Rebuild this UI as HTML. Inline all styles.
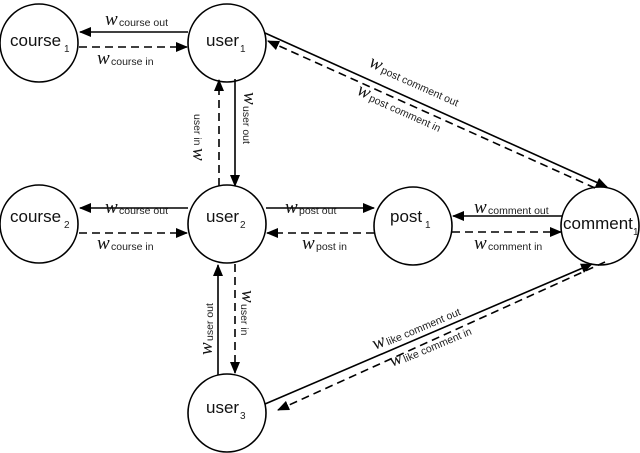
<!DOCTYPE html>
<html><head><style>
html,body{margin:0;padding:0;background:#fff;}
svg{display:block;}
.n{font-family:"Liberation Sans",sans-serif;font-size:17px;fill:#111;}
.s{font-family:"Liberation Sans",sans-serif;font-size:10px;fill:#222;}
.w{font-family:"Liberation Serif",serif;font-style:italic;font-size:19px;fill:#111;}
.l{font-family:"Liberation Sans",sans-serif;font-size:10.5px;fill:#222;}
</style></head><body>
<svg width="640" height="453" viewBox="0 0 640 453" xmlns="http://www.w3.org/2000/svg">
<defs>
<marker id="a" markerWidth="12" markerHeight="10" refX="11" refY="5" orient="auto" markerUnits="userSpaceOnUse">
<path d="M0,0 L12,5 L0,10 z" fill="#000"/></marker>
</defs>
<g fill="none" stroke="#000" stroke-width="1.6">
<circle cx="39" cy="43" r="39"/>
<circle cx="227" cy="43" r="39"/>
<circle cx="39" cy="224" r="39"/>
<circle cx="227" cy="224" r="39"/>
<circle cx="413" cy="226" r="39"/>
<circle cx="600" cy="226" r="39"/>
<circle cx="227" cy="413" r="39"/>
</g>
<g stroke="#000" stroke-width="1.6" fill="none">
<line x1="188" y1="32" x2="80" y2="32" marker-end="url(#a)"/>
<line x1="79" y1="47" x2="187" y2="47" stroke-dasharray="8,5" marker-end="url(#a)"/>
<line x1="235" y1="79" x2="235" y2="186" marker-end="url(#a)"/>
<line x1="219" y1="186" x2="219" y2="80" stroke-dasharray="8,5" marker-end="url(#a)"/>
<line x1="188" y1="208" x2="80" y2="208" marker-end="url(#a)"/>
<line x1="79" y1="233" x2="187" y2="233" stroke-dasharray="8,5" marker-end="url(#a)"/>
<line x1="266" y1="208" x2="374" y2="208" marker-end="url(#a)"/>
<line x1="374" y1="233" x2="267" y2="233" stroke-dasharray="8,5" marker-end="url(#a)"/>
<line x1="562" y1="216" x2="453" y2="216" marker-end="url(#a)"/>
<line x1="452" y1="232" x2="561" y2="232" stroke-dasharray="8,5" marker-end="url(#a)"/>
<line x1="265" y1="33" x2="607" y2="187" marker-end="url(#a)"/>
<line x1="595" y1="188" x2="268" y2="41" stroke-dasharray="8,5" marker-end="url(#a)"/>
<line x1="218" y1="375" x2="218" y2="265" marker-end="url(#a)"/>
<line x1="235" y1="264" x2="235" y2="373" stroke-dasharray="8,5" marker-end="url(#a)"/>
<line x1="265" y1="404" x2="592" y2="264" marker-end="url(#a)"/>
<line x1="605" y1="262" x2="278" y2="410" stroke-dasharray="8,5" marker-end="url(#a)"/>
</g>
<!-- node labels -->
<text class="n" x="10" y="46">course</text><text class="s" x="64" y="52">1</text>
<text class="n" x="206" y="46">user</text><text class="s" x="240" y="52">1</text>
<text class="n" x="10" y="222">course</text><text class="s" x="64" y="228">2</text>
<text class="n" x="206" y="222">user</text><text class="s" x="240" y="228">2</text>
<text class="n" x="390" y="222">post</text><text class="s" x="425" y="228">1</text>
<text class="n" x="563" y="229">comment</text><text class="s" x="633" y="235">1</text>
<text class="n" x="206" y="413">user</text><text class="s" x="240" y="419">3</text>
<!-- edge labels -->
<text class="w" x="105" y="25">w</text><text class="l" x="119" y="26">course out</text>
<text class="w" x="97" y="64">w</text><text class="l" x="111" y="65">course in</text>
<text class="w" x="105" y="213">w</text><text class="l" x="119" y="214">course out</text>
<text class="w" x="97" y="249">w</text><text class="l" x="111" y="250">course in</text>
<text class="w" x="285" y="213">w</text><text class="l" x="299" y="214">post out</text>
<text class="w" x="302" y="249">w</text><text class="l" x="316" y="250">post in</text>
<text class="w" x="474" y="213">w</text><text class="l" x="488" y="214">comment out</text>
<text class="w" x="474" y="249">w</text><text class="l" x="488" y="250">comment in</text>
<g transform="translate(244,92) rotate(90)"><text class="w" x="0" y="0">w</text><text class="l" x="14" y="1">user out</text></g>
<g transform="translate(203,160) rotate(-90)"><text class="w" x="0" y="0" transform="rotate(180 6 -5)">w</text><text class="l" x="14" y="1" transform="rotate(180 30 -4)">user in</text></g>
<g transform="translate(212,355) rotate(-90)"><text class="w" x="0" y="0">w</text><text class="l" x="14" y="1">user out</text></g>
<g transform="translate(242,290) rotate(90)"><text class="w" x="0" y="0">w</text><text class="l" x="14" y="1">user in</text></g>
<g transform="translate(368,66) rotate(24)"><text class="w" x="0" y="0">w</text><text class="l" x="14" y="1">post comment out</text></g>
<g transform="translate(356,94) rotate(24)"><text class="w" x="0" y="0">w</text><text class="l" x="14" y="1">post comment in</text></g>
<g transform="translate(375,350) rotate(-23)"><text class="w" x="0" y="0">w</text><text class="l" x="14" y="1">like comment out</text></g>
<g transform="translate(392,367) rotate(-23)"><text class="w" x="0" y="0">w</text><text class="l" x="14" y="1">like comment in</text></g>
</svg>
</body></html>
